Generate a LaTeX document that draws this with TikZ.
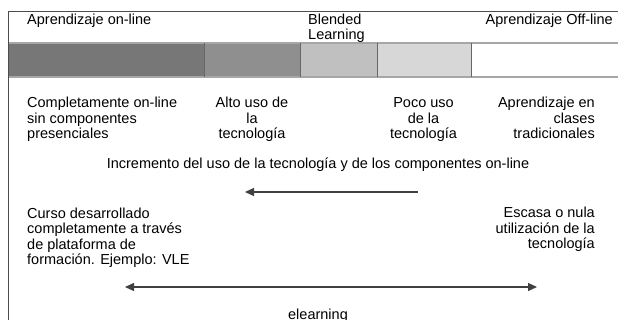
\documentclass[tikz,border=0pt]{standalone}
\usepackage{fontspec}
\setmainfont{Liberation Sans}
\usetikzlibrary{arrows.meta}
\definecolor{segA}{HTML}{777777}
\definecolor{segB}{HTML}{8F8F8F}
\definecolor{segC}{HTML}{C0C0C0}
\definecolor{segD}{HTML}{D7D7D7}
\begin{document}
\begin{tikzpicture}
            [x=1pt,y=-1pt,
             txt/.style={font=\fontsize{14.5}{15.5}\selectfont,inner sep=0pt},
             frame/.style={draw=black!70,line width=1pt},
             rim/.style={draw=black!35,line width=1.2pt},
             cut/.style={draw=black!60,line width=0.9pt},
             arr/.style={draw=black!75,line width=1.3pt},
             tip/.style={-{Triangle[length=9pt,width=8pt]}},
             tips/.style={{Triangle[length=9pt,width=8pt]}-{Triangle[length=9pt,width=8pt]}}]
            \useasboundingbox (0,0) rectangle (618,320);
            % bar
            \fill[segA] (8,43) rectangle (204,77);
            \fill[segB] (204,43) rectangle (300,77);
            \fill[segC] (300,43) rectangle (377,77);
            \fill[segD] (377,43) rectangle (471,77);
            \draw[rim] (8,43) -- (618,43);
            \draw[rim] (8,77) -- (618,77);
            \draw[cut] (204,43) -- (204,77);
            \draw[cut] (300,43) -- (300,77);
            \draw[cut] (377,43) -- (377,77);
            \draw[cut] (471,43) -- (471,77);
            \draw[frame] (618,11.5) -- (8,11.5) -- (8,320);
            % headings (base = last line)
            \node[txt,anchor=base west] (online) at (27,24.5) {Aprendizaje on-line};
            \node[txt,anchor=base west,align=left] (blended) at (308,40) {Blended\\Learning};
            \node[txt,anchor=base east] (offline) at (613,24.5) {Aprendizaje Off-line};
            % degrees
            \node[txt,anchor=base west,align=left] (full) at (27,139) {Completamente on-line\\sin componentes\\presenciales};
            \node[txt,anchor=base,align=center] (high) at (252,139) {Alto uso de\\la\\tecnología};
            \node[txt,anchor=base,align=center] (low) at (423.5,139) {Poco uso\\de la\\tecnología};
            \node[txt,anchor=base east,align=right] (classes) at (595,139) {Aprendizaje en\\clases\\tradicionales};
            \node[txt,anchor=base] (increase) at (318,169) {Incremento del uso de la tecnología y de los componentes on-line};
            \coordinate (incR) at (418,192);
            \coordinate (incL) at (245,192);
            \draw[arr,tip] (incR) -- (incL);
            % extremes
            \node[txt,anchor=base west,align=left] (course) at (27,265) {Curso desarrollado\\completamente a través\\de plataforma de\\formación. Ejemplo: VLE};
            \node[txt,anchor=base east,align=right] (scarce) at (595,249) {Escasa o nula\\utilización de la\\tecnología};
            \coordinate (elL) at (125,287);
            \coordinate (elR) at (537,287);
            \draw[arr,tips] (elL) -- (elR);
            \node[txt,anchor=base] (elearning) at (318,319.5) {elearning};
        \end{tikzpicture}
\end{document}
